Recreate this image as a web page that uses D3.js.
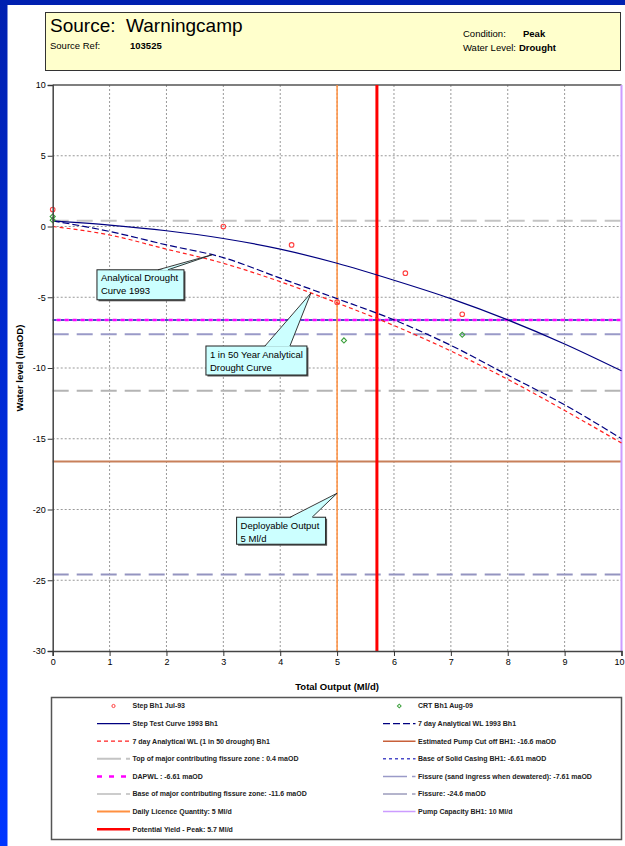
<!DOCTYPE html>
<html>
<head>
<meta charset="utf-8">
<title>Source: Warningcamp</title>
<style type="text/css">
    body { margin: 0; }
    svg { display: block; font-family: "Liberation Sans", Arial, sans-serif; }
    .tick text { font-size: 9px; fill: #000; }
</style>
</head>
<body>
<script src="https://cdnjs.cloudflare.com/ajax/libs/d3/7.8.5/d3.min.js"></script>
<script type="text/javascript">

// ---- data ----
var outputs = [0, 1, 2, 3, 4, 5, 6, 7, 8, 9, 10];
var stepCurve1993 = [0.4, 0.1, -0.3, -0.85, -1.6, -2.6, -3.8, -5.1, -6.6, -8.3, -10.2];
var analytical1993 = [0.4, -0.35, -1.3, -2.2, -3.65, -5.1, -6.6, -8.4, -10.5, -12.6, -15.0];
var analytical1in50 = [0, -0.6, -1.6, -2.6, -3.9, -5.4, -7.0, -8.8, -10.8, -13.0, -15.3];

var stepX = [0, 3, 4.2, 5, 6.2, 7.2];
var stepY = [1.2, 0.0, -1.3, -5.35, -3.3, -6.2];
var crtX = [0, 0, 5.12, 7.2];
var crtY = [0.7, 0.45, -8.05, -7.65];

var levelNames = ["Top of major contributing fissure zone : 0.4 maOD", "Base of Solid Casing BH1: -6.61 maOD",
    "DAPWL : -6.61 maOD", "Fissure (sand ingress when dewatered): -7.61 maOD",
    "Base of major contributing fissure zone: -11.6 maOD", "Estimated Pump Cut off BH1: -16.6 maOD", "Fissure: -24.6 maOD"];
var levelValues = [0.4, -6.61, -6.61, -7.61, -11.6, -16.6, -24.6];

var rateNames = ["Daily Licence Quantity: 5 Ml/d", "Potential Yield - Peak: 5.7 Ml/d", "Pump Capacity BH1: 10 Ml/d"];
var rateValues = [5, 5.7, 10];

var xTicks = [0, 1, 2, 3, 4, 5, 6, 7, 8, 9, 10];
var yTicks = [10, 5, 0, -5, -10, -15, -20, -25, -30];

var noteText = [["Analytical Drought", "Curve 1993"], ["1 in 50 Year Analytical", "Drought Curve"], ["Deployable Output", "5 Ml/d"]];
var noteTipX = [2.8, 4.54, 5];
var noteTipY = [-2.0, -4.7, -18.85];

// ---- styles ----
var levelStyle = {
    "Top of major contributing fissure zone : 0.4 maOD": {c: "#c4c4c4", w: 2, d: "16,8"},
    "Base of Solid Casing BH1: -6.61 maOD": {c: "#4b4bc8", w: 2, d: "4,4"},
    "DAPWL : -6.61 maOD": {c: "#ff00ff", w: 2.5, d: "4,4", off: 4},
    "Fissure (sand ingress when dewatered): -7.61 maOD": {c: "#9a9ac8", w: 2, d: "16,8"},
    "Base of major contributing fissure zone: -11.6 maOD": {c: "#b4b4b4", w: 2, d: "16,8"},
    "Estimated Pump Cut off BH1: -16.6 maOD": {c: "#c8805a", w: 2, d: null},
    "Fissure: -24.6 maOD": {c: "#9494c0", w: 2, d: "16,8"}
};
var rateStyle = {
    "Daily Licence Quantity: 5 Ml/d": {c: "#ff9040", w: 1.5},
    "Potential Yield - Peak: 5.7 Ml/d": {c: "#ff0000", w: 3},
    "Pump Capacity BH1: 10 Ml/d": {c: "#cc9cff", w: 2}
};

var W = 625, H = 846;
var svg = d3.select("body").append("svg").attr("width", W).attr("height", H);

var grad = svg.append("defs").append("linearGradient")
    .attr("id", "bg").attr("x1", 0).attr("y1", 0).attr("x2", 0).attr("y2", 1);
grad.append("stop").attr("offset", 0).attr("stop-color", "#0020b0");
grad.append("stop").attr("offset", 1).attr("stop-color", "#0036ff");
svg.append("rect").attr("width", W).attr("height", H).attr("fill", "url(#bg)");
svg.append("rect").attr("x", 7.5).attr("y", 5).attr("width", W - 7.5).attr("height", H - 5).attr("fill", "#fff");

// header
svg.append("rect").attr("x", 45.5).attr("y", 12.5).attr("width", 575).attr("height", 58)
    .attr("fill", "#ffffcc").attr("stroke", "#333").attr("stroke-width", 1);
svg.append("text").attr("x", 50).attr("y", 32).attr("font-size", 19).style("white-space", "pre")
    .text("Source:  Warningcamp");
svg.append("text").attr("x", 50).attr("y", 49).attr("font-size", 9.5).text("Source Ref:");
svg.append("text").attr("x", 130).attr("y", 49).attr("font-size", 9.5).attr("font-weight", "bold").text("103525");
svg.append("text").attr("x", 463).attr("y", 37).attr("font-size", 9.5).text("Condition:");
svg.append("text").attr("x", 523).attr("y", 37).attr("font-size", 9.5).attr("font-weight", "bold").text("Peak");
svg.append("text").attr("x", 463).attr("y", 51).attr("font-size", 9.5).text("Water Level:");
svg.append("text").attr("x", 519).attr("y", 51).attr("font-size", 9.5).attr("font-weight", "bold").text("Drought");

// plot
var x = d3.scaleLinear().domain([0, 10]).range([52.7, 621.5]);
var y = d3.scaleLinear().domain([-30, 10]).range([651, 85]);

var g = svg.append("g");

// grid
g.selectAll(".vgrid").data(xTicks.filter(function(d){ return d > 0 && d < 10; })).enter()
    .append("line")
    .attr("x1", function(d){ return x(d); }).attr("x2", function(d){ return x(d); })
    .attr("y1", y(10)).attr("y2", y(-30))
    .attr("stroke", "#999").attr("stroke-dasharray", "2,2");
g.selectAll(".hgrid").data(yTicks.filter(function(d){ return d > -30 && d < 10; })).enter()
    .append("line")
    .attr("x1", x(0)).attr("x2", x(10))
    .attr("y1", function(d){ return y(d); }).attr("y2", function(d){ return y(d); })
    .attr("stroke", "#999").attr("stroke-dasharray", "2,2");

// top frame
g.append("line").attr("x1", x(0)).attr("x2", x(10)).attr("y1", y(10)).attr("y2", y(10))
    .attr("stroke", "#555").attr("stroke-width", 1.5);

// horizontal reference levels
levelNames.forEach(function(n, i){
    var s = levelStyle[n];
    g.append("line").attr("x1", x(0)).attr("x2", x(10))
        .attr("y1", y(levelValues[i])).attr("y2", y(levelValues[i]))
        .attr("stroke", s.c).attr("stroke-width", s.w)
        .attr("stroke-dasharray", s.d).attr("stroke-dashoffset", s.off || 0);
});

// vertical rates
rateNames.forEach(function(n, i){
    var s = rateStyle[n];
    g.append("line").attr("x1", x(rateValues[i])).attr("x2", x(rateValues[i]))
        .attr("y1", y(10)).attr("y2", y(-30))
        .attr("stroke", s.c).attr("stroke-width", s.w);
});

// curves
var line = d3.line().x(function(d){ return x(d[0]); }).y(function(d){ return y(d[1]); })
    .curve(d3.curveMonotoneX);
function pairs(ys){ return outputs.map(function(o, i){ return [o, ys[i]]; }); }

g.append("path").datum(pairs(stepCurve1993)).attr("d", line)
    .attr("fill", "none").attr("stroke", "#000080").attr("stroke-width", 1.2);
g.append("path").datum(pairs(analytical1993)).attr("d", line)
    .attr("fill", "none").attr("stroke", "#000080").attr("stroke-width", 1.2).attr("stroke-dasharray", "7,3");
g.append("path").datum(pairs(analytical1in50)).attr("d", line)
    .attr("fill", "none").attr("stroke", "#ff2020").attr("stroke-width", 1.2).attr("stroke-dasharray", "4,3");

// points (diamond = square turned 45 degrees)
var diamond = d3.symbol().type(d3.symbolSquare).size(13);
g.selectAll(".crt").data(crtX).enter().append("path")
    .attr("d", diamond)
    .attr("transform", function(d, i){ return "translate(" + x(d) + "," + y(crtY[i]) + ") rotate(45)"; })
    .attr("fill", "none").attr("stroke", "#3ca03c").attr("stroke-width", 1.1);
g.selectAll(".step").data(stepX).enter().append("circle")
    .attr("cx", function(d){ return x(d); })
    .attr("cy", function(d, i){ return y(stepY[i]); })
    .attr("r", 2.3)
    .attr("fill", "none").attr("stroke", "#ff4040").attr("stroke-width", 1.1);

// axes
var yAxis = g.append("g").attr("transform", "translate(" + x(0) + ",0)");
yAxis.call(d3.axisLeft(y).tickValues(d3.range(-30, 11, 1)).tickSize(3).tickFormat(""));
yAxis.call(d3.axisLeft(y).tickValues(yTicks).tickSize(5).tickPadding(2).tickFormat(function(d){ return String(d); }));
var xAxis = g.append("g").attr("transform", "translate(0," + y(-30) + ")");
xAxis.call(d3.axisBottom(x).tickValues(d3.range(0, 10.01, 0.2)).tickSize(3).tickFormat(""));
xAxis.call(d3.axisBottom(x).tickValues(xTicks).tickSize(5).tickPadding(3).tickFormat(function(d){ return String(d); }));
// keep the last label inside the window
xAxis.selectAll(".tick text").filter(function(d){ return d === 10; }).attr("dx", -2.5);
g.selectAll(".domain").attr("stroke", "#444").attr("stroke-width", 1.5);
g.selectAll(".tick line").attr("stroke", "#333");

svg.append("text").attr("transform", "translate(23," + ((y(10) + y(-30)) / 2) + ") rotate(-90)")
    .attr("text-anchor", "middle").attr("font-size", 9.5).attr("font-weight", "bold")
    .text("Water level (maOD)");
svg.append("text").attr("x", (x(0) + x(10)) / 2).attr("y", 690)
    .attr("text-anchor", "middle").attr("font-size", 9.5).attr("font-weight", "bold")
    .text("Total Output (Ml/d)");

// callouts: box offset from tip (px), box size, wedge base on box top
var noteBox = [{dx: -115, dy: 15, w: 87, h: 30, b1: -54, b2: -44},
               {dx: -105, dy: 53, w: 101, h: 29, b1: -46, b2: -21},
               {dx: -100.5, dy: 24, w: 89, h: 27, b1: -47, b2: -25}];
noteText.forEach(function(lines, i){
    var tx = x(noteTipX[i]), ty = y(noteTipY[i]), b = noteBox[i];
    var bx = tx + b.dx, by = ty + b.dy;
    var c = svg.append("g");
    c.append("rect").attr("x", bx + 1.5).attr("y", by + 1.5).attr("width", b.w).attr("height", b.h).attr("fill", "#555");
    c.append("rect").attr("x", bx).attr("y", by).attr("width", b.w).attr("height", b.h)
        .attr("fill", "#ccffff").attr("stroke", "#222").attr("stroke-width", 1);
    c.append("path").attr("d", "M" + (tx + b.b1) + "," + (by + 0.8) + "L" + tx + "," + ty + "L" + (tx + b.b2) + "," + (by + 0.8) + "Z")
        .attr("fill", "#ccffff").attr("stroke", "none");
    c.append("path").attr("d", "M" + (tx + b.b1) + "," + by + "L" + tx + "," + ty + "L" + (tx + b.b2) + "," + by)
        .attr("fill", "none").attr("stroke", "#222").attr("stroke-width", 0.9);
    lines.forEach(function(t, k){
        c.append("text").attr("x", bx + 4).attr("y", by + 11.5 + k * 13).attr("font-size", 9.5).text(t);
    });
});

// legend
var legLeft = [
    {name: "Step Bh1 Jul-93", type: "circle", c: "#ff4040"},
    {name: "Step Test Curve 1993 Bh1", type: "line", c: "#000080", w: 1.2},
    {name: "7 day Analytical WL (1 in 50 drought) Bh1", type: "line", c: "#ff2020", w: 1.2, d: "4,3"},
    {name: levelNames[0], type: "line", c: levelStyle[levelNames[0]].c, w: 2, d: "24,5"},
    {name: levelNames[2], type: "line", c: "#ff00ff", w: 2.5, d: "5,7"},
    {name: levelNames[4], type: "line", c: "#999", w: 1, d: "24,5"},
    {name: rateNames[0], type: "line", c: "#ff9040", w: 2},
    {name: rateNames[1], type: "line", c: "#ff0000", w: 2.5}
];
var legRight = [
    {name: "CRT Bh1 Aug-09", type: "diamond", c: "#3ca03c"},
    {name: "7 day Analytical WL 1993 Bh1", type: "line", c: "#000080", w: 1.2, d: "7,3"},
    {name: levelNames[5], type: "line", c: "#c8603a", w: 1.5},
    {name: levelNames[1], type: "line", c: "#4b4bc8", w: 1.5, d: "3,3"},
    {name: levelNames[3], type: "line", c: "#9a9ac8", w: 1.5, d: "24,5"},
    {name: levelNames[6], type: "line", c: "#6b6b9a", w: 1, d: "24,5"},
    {name: rateNames[2], type: "line", c: "#cc9cff", w: 1.5}
];

svg.append("rect").attr("x", 51.5).attr("y", 697.5).attr("width", 570).attr("height", 142)
    .attr("fill", "#fff").attr("stroke", "#555").attr("stroke-width", 1.5);

function drawLegend(items, x0, x1) {
    items.forEach(function(it, i){
        var ly = 706 + i * 17.6;
        var lg = svg.append("g");
        if (it.type === "line") {
            lg.append("line").attr("x1", x0).attr("x2", x1).attr("y1", ly).attr("y2", ly)
                .attr("stroke", it.c).attr("stroke-width", it.w).attr("stroke-dasharray", it.d || null);
        } else if (it.type === "circle") {
            lg.append("circle").attr("cx", (x0 + x1) / 2).attr("cy", ly).attr("r", 1.6)
                .attr("fill", "none").attr("stroke", it.c).attr("stroke-width", 1);
        } else {
            lg.append("path").attr("d", d3.symbol().type(d3.symbolSquare).size(7))
                .attr("transform", "translate(" + ((x0 + x1) / 2) + "," + ly + ") rotate(45)")
                .attr("fill", "none").attr("stroke", it.c).attr("stroke-width", 1);
        }
        lg.append("text").attr("x", x1 + 2.5).attr("y", ly + 2.4)
            .attr("font-size", 7).attr("font-weight", "bold").attr("fill", "#222").text(it.name);
    });
}
drawLegend(legLeft, 97, 130);
drawLegend(legRight, 383, 415.5);

</script>
</body>
</html>
